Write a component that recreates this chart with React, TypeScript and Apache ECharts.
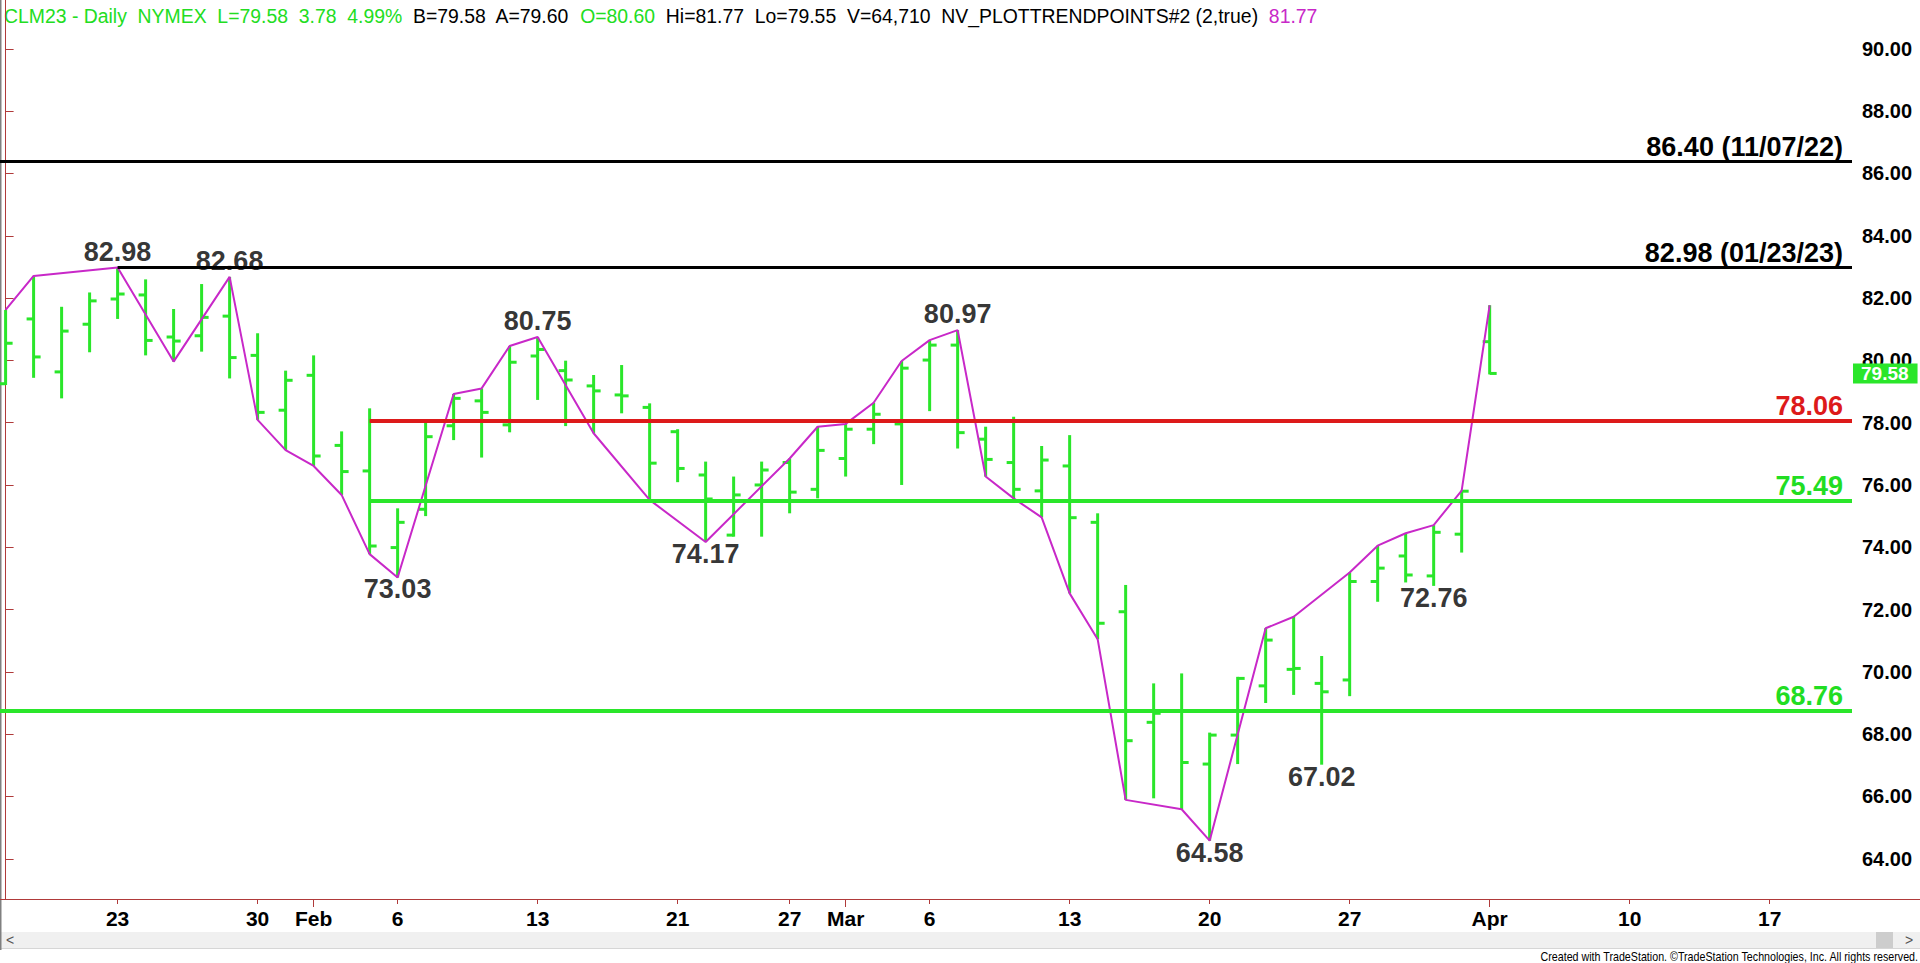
import { useEffect, useRef } from 'react';
import * as echarts from 'echarts';

// ---------- DATA ----------
const dates = ['01-17','01-18','01-19','01-20','01-23','01-24','01-25','01-26','01-27','01-30','01-31',
  '02-01','02-02','02-03','02-06','02-07','02-08','02-09','02-10','02-13','02-14','02-15','02-16','02-17','02-21','02-22','02-23','02-24','02-27','02-28',
  '03-01','03-02','03-03','03-06','03-07','03-08','03-09','03-10','03-13','03-14','03-15','03-16','03-17','03-20','03-21','03-22','03-23','03-24','03-27','03-28','03-29','03-30','03-31',
  '04-03'];

const opens = [79.25, 81.33, 79.63, 81.16, 81.97, 82.10, 80.75, 80.79, 81.42, 80.16, 78.40,
  79.52, 77.27, 76.45, 73.99, 75.22, 77.90, 78.70, 77.93, 80.14, 79.67, 79.18, 78.89, 78.49, 77.71, 76.32, 74.39, 76.00, 76.72, 75.86,
  76.85, 77.79, 77.96, 80.01, 80.49, 77.47, 76.72, 75.81, 76.61, 74.80, 71.93, 68.38, 68.75, 67.04, 67.97, 69.55, 70.08, 69.63, 69.74, 72.90, 73.72, 73.08, 74.42,
  80.60];
const highs = [81.62, 82.71, 81.72, 82.18, 82.98, 82.60, 81.65, 82.45, 82.68, 80.87, 79.67,
  80.16, 77.72, 78.46, 75.25, 78.03, 78.92, 79.10, 80.46, 80.75, 79.99, 79.53, 79.85, 78.62, 77.79, 76.75, 76.27, 76.75, 76.85, 77.87,
  77.96, 78.64, 79.98, 80.65, 80.97, 77.87, 78.19, 77.25, 77.60, 75.09, 72.79, 69.63, 69.95, 68.05, 69.84, 71.40, 71.77, 70.51, 73.19, 74.05, 74.45, 74.71, 75.82,
  81.77];
const lows = [79.21, 79.44, 78.78, 80.26, 81.33, 80.16, 79.96, 80.28, 79.42, 78.09, 77.12,
  76.61, 75.68, 73.78, 73.03, 75.00, 77.44, 76.88, 77.69, 78.73, 77.89, 77.66, 78.30, 75.52, 76.09, 74.17, 74.34, 74.34, 75.09, 75.57,
  76.27, 77.31, 76.00, 78.37, 77.17, 76.27, 75.57, 74.96, 72.52, 71.05, 65.89, 65.94, 65.59, 64.58, 67.04, 69.00, 69.26, 67.02, 69.22, 72.25, 72.87, 72.76, 73.83,
  79.55];
const closes = [80.55, 80.11, 80.94, 81.91, 82.13, 80.64, 80.62, 81.38, 80.09, 78.33, 79.36,
  76.93, 76.43, 74.04, 74.80, 77.55, 78.78, 78.33, 79.94, 80.35, 79.37, 79.02, 78.86, 76.70, 76.53, 75.55, 75.68, 76.48, 75.77, 77.11,
  77.79, 78.27, 79.75, 80.49, 77.68, 76.82, 75.86, 76.80, 74.95, 71.56, 67.79, 68.67, 67.09, 67.97, 69.79, 71.02, 70.11, 69.36, 72.90, 73.33, 73.11, 74.48, 75.80,
  79.58];

// Swing (trend) points of NV_PLOTTRENDPOINTS: date + which extreme of the bar
const trendPoints: [string, 'H' | 'L'][] = [
  ['01-17','H'],['01-18','H'],['01-23','H'],['01-25','L'],['01-27','H'],['01-30','L'],['01-31','L'],['02-01','L'],
  ['02-02','L'],['02-03','L'],['02-06','L'],['02-08','H'],['02-09','H'],['02-10','H'],['02-13','H'],['02-15','L'],
  ['02-17','L'],['02-22','L'],['02-27','H'],['02-28','H'],['03-01','H'],['03-02','H'],['03-03','H'],['03-06','H'],
  ['03-07','H'],['03-08','L'],['03-09','L'],['03-10','L'],['03-13','L'],['03-14','L'],['03-15','L'],['03-17','L'],
  ['03-20','L'],['03-22','H'],['03-23','H'],['03-27','H'],['03-28','H'],['03-29','H'],['03-30','H'],['03-31','H'],
  ['04-03','H']];

// Annotated swing values
const swingLabels: [string, 'H' | 'L'][] = [
  ['01-23','H'],['01-27','H'],['02-06','L'],['02-13','H'],['02-22','L'],['03-07','H'],['03-20','L'],['03-24','L'],['03-30','L']];

// Horizontal levels
const levelValues = [86.40, 82.98, 78.06, 75.49, 68.76];
const levelTexts = ['86.40 (11/07/22)', '82.98 (01/23/23)', '78.06', '75.49', '68.76'];
const levelFrom: (string | null)[] = [null, '01-23', '02-03', '02-03', null];

// Axis ticks (trading-day positions; Apr 10/17 are future days)
const xTickIndex = [4, 9, 11, 14, 19, 24, 28, 30, 33, 38, 43, 48, 53, 58, 63];
const xTickLabels = ['23', '30', 'Feb', '6', '13', '21', '27', 'Mar', '6', '13', '20', '27', 'Apr', '10', '17'];
const monthTickIndex = [11, 30, 53];
const yTickValues = [64, 66, 68, 70, 72, 74, 76, 78, 80, 82, 84, 86, 88, 90];

// Header (text, colour key)
const headerParts: [string, string][] = [
  ['CLM23 - Daily  NYMEX  L=79.58  3.78  4.99%', 'g'], ['  B=79.58  A=79.60  ', 'k'], ['O=80.60', 'g'],
  ['  Hi=81.77  Lo=79.55  V=64,710  NV_PLOTTRENDPOINTS#2 (2,true)  ', 'k'], ['81.77', 'm']];

// ---------- STYLE / LAYOUT ----------
const FONT = '"Liberation Sans", Arial, Helvetica, sans-serif';
const GREEN = '#2ae62a';
const TXT_GREEN = '#22dd22';
const RED = '#dd1a1a';
const MAGENTA = '#c828c8';
const AXIS_RED = '#b03a3a';
const X_MIN = -0.2;
const X_MAX = 65.94;
const Y_MIN = 62.708;
const Y_MAX = 91.569;
const HEADER_FS = 19.4;
const levelColors = ['#000000', '#000000', RED, GREEN, GREEN];
const levelTextColors = ['#000000', '#000000', RED, TXT_GREEN, TXT_GREEN];
const levelWidths = [3, 3, 4, 4, 4];

function buildOption() {
  const ohlcRows = dates.map((d, i) => [i, opens[i], highs[i], lows[i], closes[i]]);
  const ext = (d: string, s: 'H' | 'L') => {
    const i = dates.indexOf(d);
    return [i, s === 'H' ? highs[i] : lows[i]];
  };
  const trendData = trendPoints.map(([d, s]) => ext(d, s));
  const swingData = swingLabels.map(([d, s]) => ({
    value: ext(d, s),
    label: { offset: [0, s === 'H' ? -16 : 12] },
  }));
  const last = closes[closes.length - 1];

  const headerRich = {
    g: { fill: TXT_GREEN, color: TXT_GREEN, fontSize: HEADER_FS, fontFamily: FONT },
    k: { fill: '#000', color: '#000', fontSize: HEADER_FS, fontFamily: FONT },
    m: { fill: MAGENTA, color: MAGENTA, fontSize: HEADER_FS, fontFamily: FONT },
  };
  const headerText = headerParts.map(([t, c]) => `{${c}|${t}}`).join('');

  const graphics: any[] = [
    { type: 'text', x: 4, y: 16, silent: true,
      style: { text: headerText, rich: headerRich, fontSize: HEADER_FS, fontFamily: FONT, verticalAlign: 'middle' } },
    { type: 'line', silent: true, shape: { x1: 1852, y1: 899.5, x2: 1920, y2: 899.5 }, style: { stroke: AXIS_RED, lineWidth: 1 } },
    { type: 'rect', silent: true, shape: { x: 1, y: 932, width: 1919, height: 16 }, style: { fill: '#f0f0f0' } },
    { type: 'rect', silent: true, shape: { x: 1876, y: 932, width: 17, height: 16 }, style: { fill: '#cdcdcd' } },
    { type: 'line', silent: true, shape: { x1: 0, y1: 948.5, x2: 1920, y2: 948.5 }, style: { stroke: '#d6d6d6', lineWidth: 1 } },
    { type: 'line', silent: true, shape: { x1: 0.75, y1: 0, x2: 0.75, y2: 950 }, style: { stroke: '#808080', lineWidth: 1.5 } },
    { type: 'text', silent: true, x: 10, y: 940, style: { text: '<', fill: '#555', fontSize: 14, fontFamily: FONT, align: 'center', verticalAlign: 'middle' } },
    { type: 'text', silent: true, x: 1909, y: 940, style: { text: '>', fill: '#555', fontSize: 14, fontFamily: FONT, align: 'center', verticalAlign: 'middle' } },
    { type: 'text', silent: true, x: 1918, y: 956, scaleX: 0.856,
      style: { text: 'Created with TradeStation. \u00A9TradeStation Technologies, Inc. All rights reserved.', fill: '#000', fontSize: 12.5, fontFamily: FONT, align: 'right', verticalAlign: 'middle' } },
  ];

  return {
    animation: false,
    backgroundColor: '#ffffff',
    grid: { left: 0, right: 68, top: 0, bottom: 64, containLabel: false },
    xAxis: [
      {
        type: 'value', min: X_MIN, max: X_MAX, position: 'bottom',
        splitLine: { show: false },
        axisLine: { show: true, lineStyle: { color: AXIS_RED, width: 1 } },
        axisTick: { show: true, length: 5, customValues: xTickIndex, lineStyle: { color: AXIS_RED } },
        axisLabel: {
          customValues: xTickIndex, margin: 9, color: '#000', fontSize: 21, fontWeight: 'bold', fontFamily: FONT,
          formatter: (v: number) => xTickLabels[xTickIndex.indexOf(Math.round(v))] ?? '',
        },
      },
      {
        type: 'value', min: X_MIN, max: X_MAX, position: 'bottom', offset: 0,
        splitLine: { show: false },
        axisLine: { show: false },
        axisTick: { show: true, length: 8, customValues: monthTickIndex, lineStyle: { color: AXIS_RED } },
        axisLabel: { show: false },
      },
    ],
    yAxis: {
      type: 'value', min: Y_MIN, max: Y_MAX, position: 'right', scale: true,
      splitLine: { show: false },
      axisLine: { show: true, lineStyle: { color: AXIS_RED, width: 1 } },
      axisTick: { show: true, length: 8, customValues: yTickValues, lineStyle: { color: AXIS_RED } },
      axisLabel: {
        customValues: yTickValues, margin: 10, color: '#000', fontSize: 20, fontWeight: 'bold', fontFamily: FONT,
        formatter: (v: number) => v.toFixed(2),
      },
    },
    series: [
      {
        type: 'custom', name: 'CLM23', z: 2,
        data: ohlcRows,
        encode: { x: 0, y: [1, 2, 3, 4] },
        renderItem: (params: any, api: any) => {
          const x = api.value(0);
          const o = api.coord([x, api.value(1)]);
          const h = api.coord([x, api.value(2)]);
          const l = api.coord([x, api.value(3)]);
          const c = api.coord([x, api.value(4)]);
          const st = { stroke: GREEN, lineWidth: 3 };
          return {
            type: 'group',
            children: [
              { type: 'line', shape: { x1: h[0], y1: h[1], x2: l[0], y2: l[1] }, style: st },
              { type: 'line', shape: { x1: o[0] - 7, y1: o[1], x2: o[0], y2: o[1] }, style: st },
              { type: 'line', shape: { x1: c[0], y1: c[1], x2: c[0] + 7, y2: c[1] }, style: st },
            ],
          };
        },
      },
      {
        type: 'line', name: 'levels', z: 3, data: [], silent: true,
        markLine: {
          symbol: 'none', silent: true, animation: false,
          data: levelValues.map((v, k) => [
            {
              coord: [levelFrom[k] ? dates.indexOf(levelFrom[k] as string) : X_MIN, v],
              lineStyle: { color: levelColors[k], width: levelWidths[k], type: 'solid' },
              label: {
                show: true, position: 'insideEndTop', formatter: levelTexts[k], distance: [9, 1],
                color: levelTextColors[k], fontSize: 27, fontWeight: 'bold', fontFamily: FONT,
              },
            },
            { coord: [X_MAX, v] },
          ]),
        },
      },
      {
        type: 'line', name: 'NV_PLOTTRENDPOINTS', z: 4, data: trendData, symbol: 'none', silent: true,
        lineStyle: { color: MAGENTA, width: 2 },
      },
      {
        type: 'scatter', name: 'swings', z: 5, data: swingData, symbolSize: 0, silent: true,
        label: {
          show: true, position: 'inside', color: '#000', fontSize: 27, fontWeight: 'bold', fontFamily: FONT,
          formatter: (p: any) => p.value[1].toFixed(2),
        },
      },
      {
        type: 'line', name: 'last', z: 6, data: [], silent: true,
        markLine: {
          symbol: 'none', silent: true, animation: false,
          lineStyle: { color: 'rgba(0,0,0,0)', width: 0 },
          data: [{ yAxis: last }],
          label: {
            show: true, position: 'end', distance: 1, formatter: last.toFixed(2),
            backgroundColor: GREEN, color: '#ffffff', fontSize: 19, fontWeight: 'bold', fontFamily: FONT,
            padding: [1, 9, 0, 8],
          },
        },
      },
    ],
    graphic: { elements: graphics },
  };
}

export default function App() {
  const ref = useRef<HTMLDivElement>(null);
  useEffect(() => {
    document.body.style.margin = '0';
    const chart = echarts.init(ref.current as HTMLDivElement, undefined, { renderer: 'svg', width: 1920, height: 963 });
    chart.setOption(buildOption() as any);
    return () => chart.dispose();
  }, []);
  return <div ref={ref} style={{ width: 1920, height: 963, position: 'absolute', left: 0, top: 0, background: '#fff' }} />;
}
